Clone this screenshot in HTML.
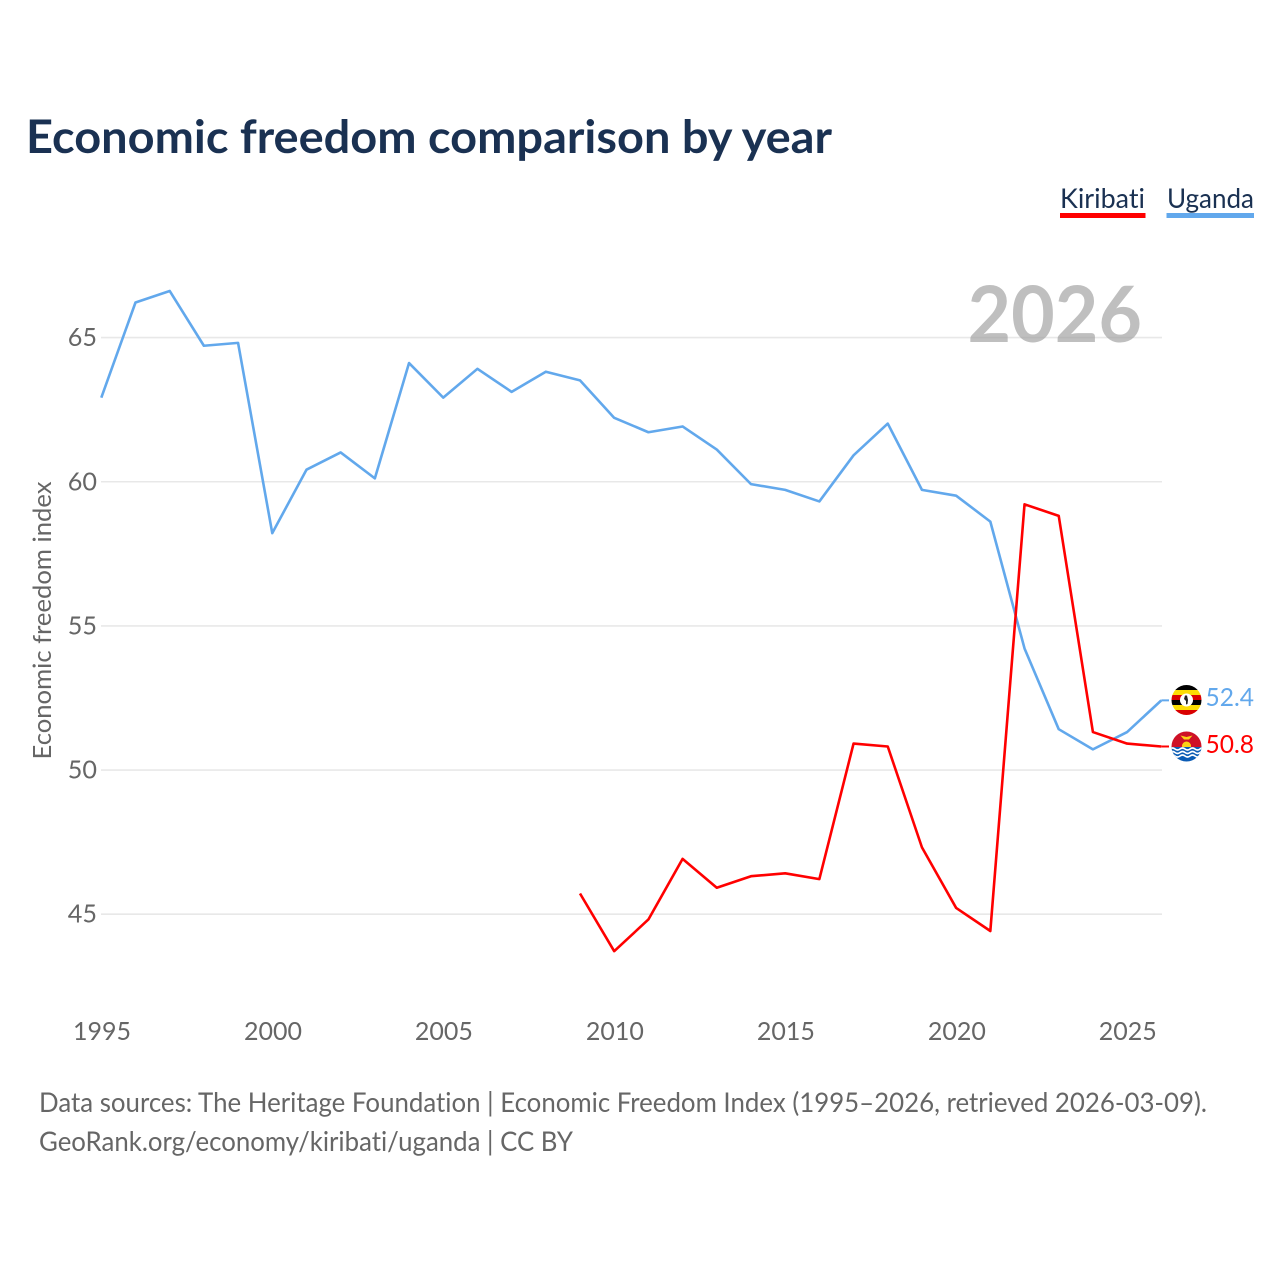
<!DOCTYPE html>
<html lang="en">
<head>
<meta charset="utf-8">
<title>Economic freedom comparison by year</title>
<style>
html,body{margin:0;padding:0;background:#fff;}
svg{display:block;}
text{font-family:"Lato","Carlito","Liberation Sans",sans-serif;font-variant-ligatures:none;font-feature-settings:"liga" 0,"clig" 0;}
</style>
</head>
<body>
<svg id="chart" width="1280" height="1280" viewBox="0 0 1280 1280" xmlns="http://www.w3.org/2000/svg">
  <defs>
    <clipPath id="ug-clip"><circle cx="1186.500" cy="700" r="15"/></clipPath>
    <clipPath id="ki-clip"><circle cx="1186.500" cy="746.500" r="15"/></clipPath>
  </defs>
  <text x="26" y="153" font-size="46" font-weight="700" fill="#1a3152" textLength="806" lengthAdjust="spacingAndGlyphs">Economic freedom comparison by year</text>

  <g>
    <text x="1060" y="208" font-size="27" fill="#1a3152" textLength="85" lengthAdjust="spacingAndGlyphs">Kiribati</text>
    <rect x="1060" y="213" width="85.500" height="5" fill="#ff0000"/>
    <text x="1167" y="208" font-size="27" fill="#1a3152" textLength="87" lengthAdjust="spacingAndGlyphs">Uganda</text>
    <rect x="1166.500" y="213" width="87.500" height="5" fill="#62a8ec"/>
  </g>

  <g id="grid"></g>
  <text x="1142" y="342" font-size="78" font-weight="700" fill="#999999" fill-opacity="0.63" text-anchor="end" textLength="174.500" lengthAdjust="spacingAndGlyphs">2026</text>
  <g id="y-ticks"></g>
  <g id="x-ticks"></g>
  <text transform="translate(51,620.500) rotate(-90)" font-size="25.500" fill="#666666" text-anchor="middle" textLength="278" lengthAdjust="spacingAndGlyphs">Economic freedom index</text>
  <g id="series"></g>

  <g clip-path="url(#ug-clip)">
    <rect x="1171" y="685" width="31" height="5" fill="#000000"/>
    <rect x="1171" y="690" width="31" height="5" fill="#fcdc04"/>
    <rect x="1171" y="695" width="31" height="5" fill="#d90000"/>
    <rect x="1171" y="700" width="31" height="5" fill="#000000"/>
    <rect x="1171" y="705" width="31" height="5" fill="#fcdc04"/>
    <rect x="1171" y="710" width="31" height="5" fill="#d90000"/>
    <circle cx="1186.500" cy="700" r="6.500" fill="#ffffff"/>
    <path d="M1185 695.500 L1187 695.500 L1188 700 L1187.500 704 L1186 704.500 L1186 701 L1184 699 Z" fill="#222222"/>
  </g>

  <g clip-path="url(#ki-clip)">
    <rect x="1171" y="731" width="31" height="17" fill="#ce1126"/>
    <circle cx="1186.500" cy="746" r="4.500" fill="#fcd116"/>
    <path d="M1180.500 735.500 L1186.500 737 L1192.500 735.500 L1189 739.500 L1184 739.500 Z" fill="#fcd116"/>
    <rect x="1171" y="747" width="31" height="15.500" fill="#0b5cb5"/>
    <path d="M1170 749 q2.500 -2 5 0 t5 0 t5 0 t5 0 t5 0 t5 0 t5 0 M1170 752.500 q2.500 -2 5 0 t5 0 t5 0 t5 0 t5 0 t5 0 t5 0 M1170 756 q2.500 -2 5 0 t5 0 t5 0 t5 0 t5 0 t5 0 t5 0" fill="none" stroke="#ffffff" stroke-width="1.600"/>
  </g>

  <text x="1254" y="706" font-size="25.500" fill="#62a8ec" text-anchor="end" textLength="48.500" lengthAdjust="spacingAndGlyphs">52.4</text>
  <text x="1254" y="753" font-size="25.500" fill="#ff0000" text-anchor="end" textLength="48.500" lengthAdjust="spacingAndGlyphs">50.8</text>

  <text x="39" y="1112" font-size="27" fill="#666666" textLength="1168" lengthAdjust="spacingAndGlyphs">Data sources: The Heritage Foundation | Economic Freedom Index (1995–2026, retrieved 2026-03-09).</text>
  <text x="39" y="1151" font-size="27" fill="#666666" textLength="534" lengthAdjust="spacingAndGlyphs">GeoRank.org/economy/kiribati/uganda | CC BY</text>
</svg>
<script>
const yearsUganda = [1995,1996,1997,1998,1999,2000,2001,2002,2003,2004,2005,2006,2007,2008,2009,2010,2011,2012,2013,2014,2015,2016,2017,2018,2019,2020,2021,2022,2023,2024,2025,2026];
const valuesUganda = [62.9,66.2,66.6,64.7,64.8,58.2,60.4,61.0,60.1,64.1,62.9,63.9,63.1,63.8,63.5,62.2,61.7,61.9,61.1,59.9,59.7,59.3,60.9,62.0,59.7,59.5,58.6,54.2,51.4,50.7,51.3,52.4];
const yearsKiribati = [2009,2010,2011,2012,2013,2014,2015,2016,2017,2018,2019,2020,2021,2022,2023,2024,2025,2026];
const valuesKiribati = [45.7,43.7,44.8,46.9,45.9,46.3,46.4,46.2,50.9,50.8,47.3,45.2,44.4,59.2,58.8,51.3,50.9,50.8];
const yTickValues = [45,50,55,60,65];
const xTickValues = [1995,2000,2005,2010,2015,2020,2025];

const NS = 'http://www.w3.org/2000/svg';
function xScale(year){ return 101.3 + (year - 1995) * (1060 / 31); }
function yScale(v){ return 914.2 - (v - 45) * 28.83; }
function lineY(v){ return yScale(v) - 0.5; }

const grid = document.getElementById('grid');
const yTicks = document.getElementById('y-ticks');
const xTicks = document.getElementById('x-ticks');
const seriesGroup = document.getElementById('series');

yTickValues.forEach(function(v){
  const line = document.createElementNS(NS, 'line');
  
  
  line.setAttribute('x1', 101);
  line.setAttribute('x2', 1162);
  line.setAttribute('y1', yScale(v));
  line.setAttribute('y2', yScale(v));
  line.setAttribute('stroke', '#e8e8e8');
  line.setAttribute('stroke-width', '1.6');
  grid.appendChild(line);

  const label = document.createElementNS(NS, 'text');
  
  
  label.setAttribute('x', 97);
  label.setAttribute('y', yScale(v) + 8.5);
  label.setAttribute('font-size', '25.2');
  label.setAttribute('fill', '#666666');
  label.setAttribute('text-anchor', 'end');
  label.textContent = String(v);
  yTicks.appendChild(label);
});

xTickValues.forEach(function(y){
  const label = document.createElementNS(NS, 'text');
  
  
  label.setAttribute('x', xScale(y) + 0.7);
  label.setAttribute('y', 1040);
  label.setAttribute('font-size', '25');
  label.setAttribute('fill', '#666666');
  label.setAttribute('text-anchor', 'middle');
  label.textContent = String(y);
  xTicks.appendChild(label);
});

function drawSeries(name, years, values, color){
  const points = years.map(function(y, i){ return xScale(y).toFixed(2) + ',' + lineY(values[i]).toFixed(2); }).join(' ');
  const line = document.createElementNS(NS, 'polyline');
  
  
  line.setAttribute('points', points);
  line.setAttribute('fill', 'none');
  line.setAttribute('stroke', color);
  line.setAttribute('stroke-width', '2.6');
  line.setAttribute('stroke-linejoin', 'round');
  seriesGroup.appendChild(line);

  const lastY = lineY(values[values.length - 1]);
  const connector = document.createElementNS(NS, 'line');
  
  
  connector.setAttribute('x1', xScale(years[years.length - 1]));
  connector.setAttribute('x2', 1169);
  connector.setAttribute('y1', lastY);
  connector.setAttribute('y2', lastY);
  connector.setAttribute('stroke', color);
  connector.setAttribute('stroke-width', '2');
  seriesGroup.appendChild(connector);
}

drawSeries('uganda', yearsUganda, valuesUganda, '#62a8ec');
drawSeries('kiribati', yearsKiribati, valuesKiribati, '#ff0000');
</script>
</body>
</html>
